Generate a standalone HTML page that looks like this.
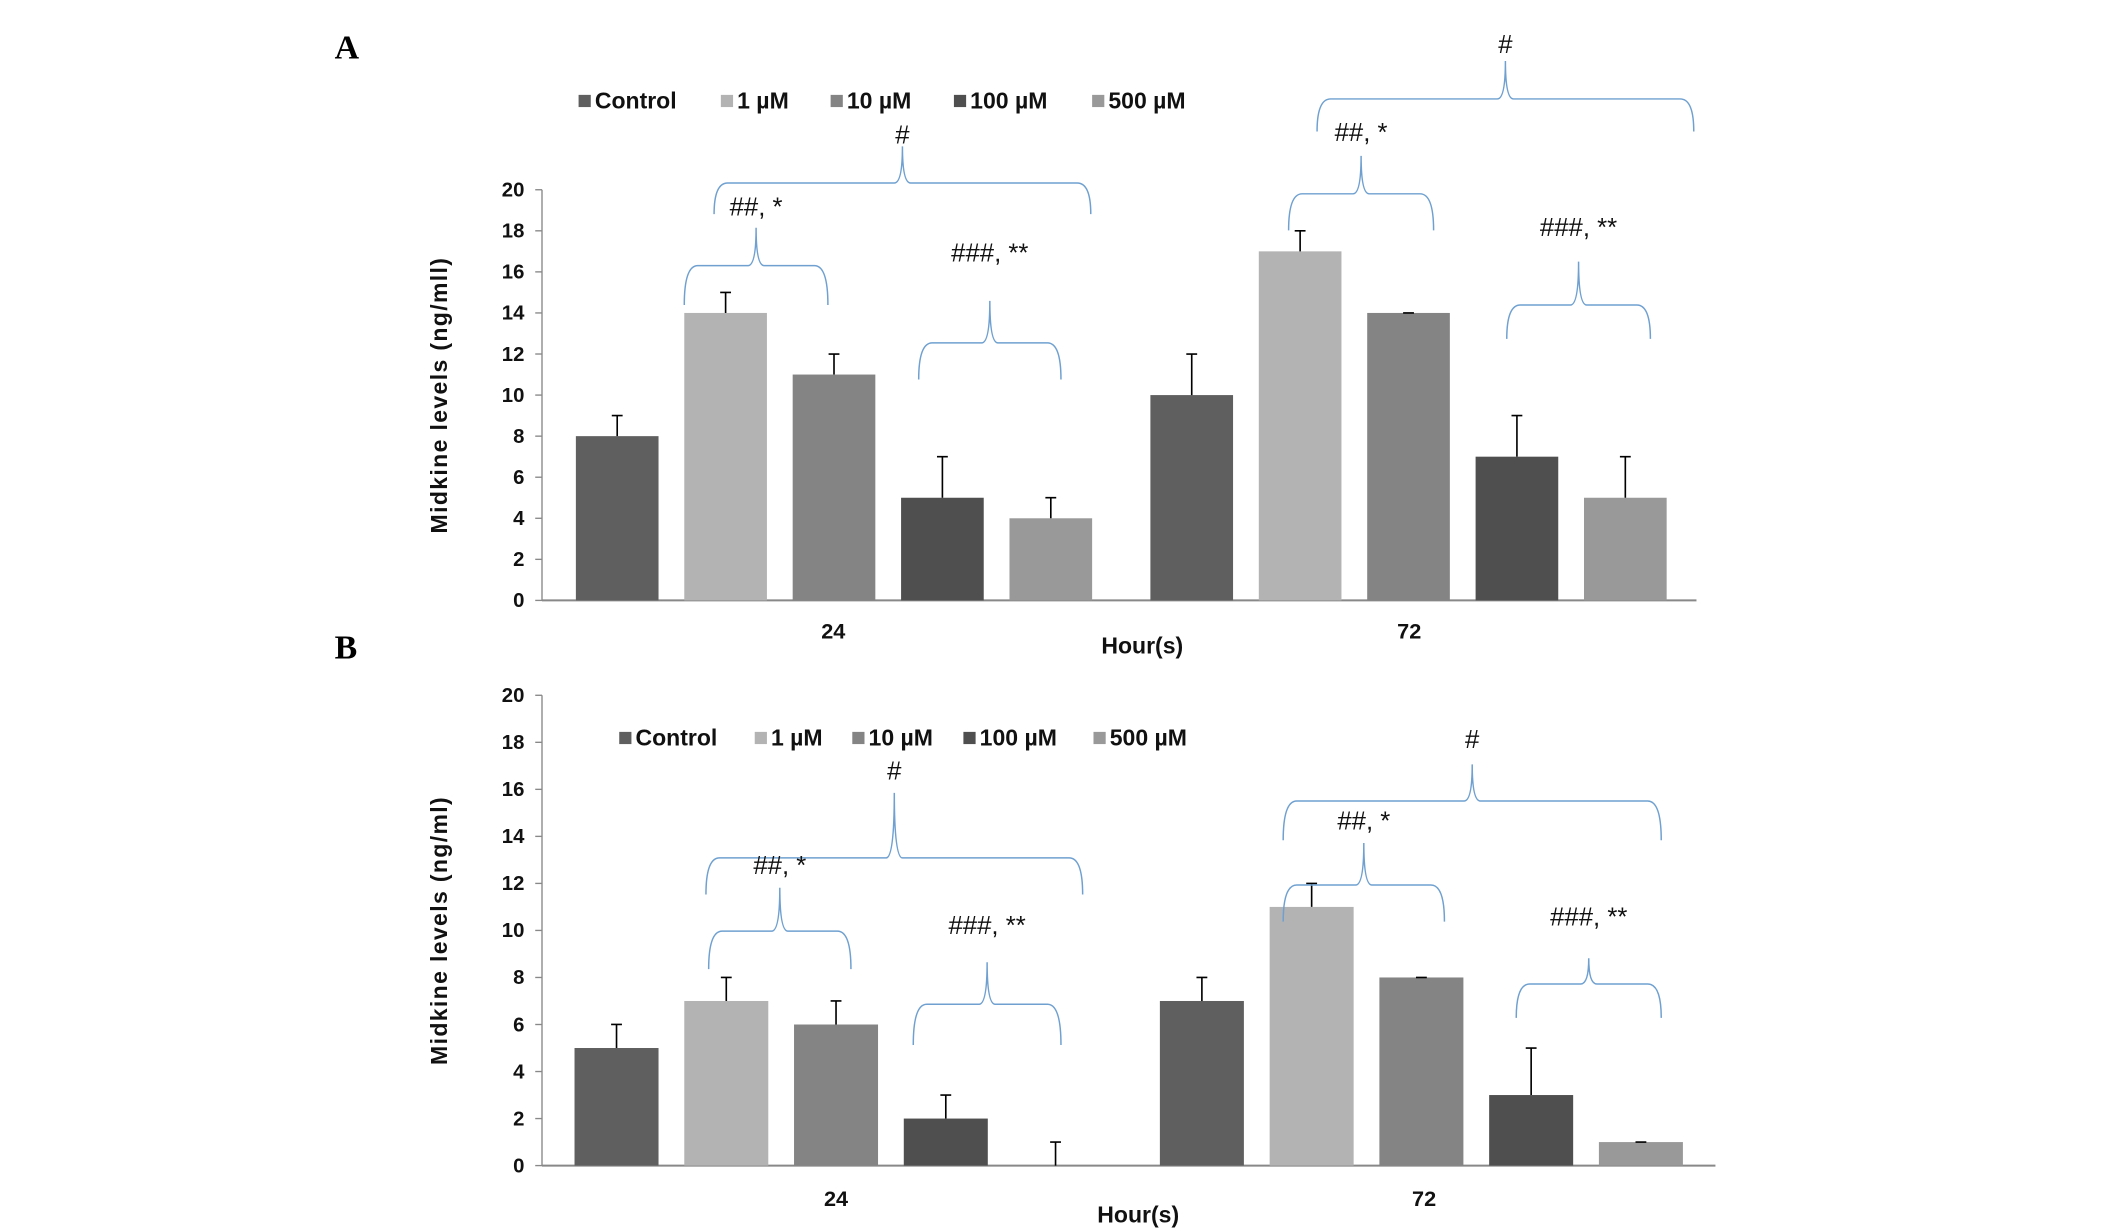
<!DOCTYPE html>
<html><head><meta charset="utf-8"><style>
html,body{margin:0;padding:0;background:#fff;}
svg{display:block;}
text{font-family:"Liberation Sans",Arial,sans-serif;}
</style></head><body>
<svg id="fig" width="2126" height="1232" viewBox="0 0 1569 909" preserveAspectRatio="none" xmlns="http://www.w3.org/2000/svg"></svg>
<script>
const seriesNames = ["Control","1 \u00b5M","10 \u00b5M","100 \u00b5M","500 \u00b5M"];
const groups = ["24","72"];
const yTicks = [0,2,4,6,8,10,12,14,16,18,20];
const aVals24 = [8,14,11,5,4];
const aErr24 = [1,1,1,2,1];
const aVals72 = [10,17,14,7,5];
const aErr72 = [2,1,0,2,2];
const bVals24 = [5,7,6,2,0];
const bErr24 = [1,1,1,1,1];
const bVals72 = [7,11,8,3,1];
const bErr72 = [1,1,0,2,0];
const colors = ["#5f5f5f","#b3b3b3","#848484","#4f4f4f","#999999"];

const NS="http://www.w3.org/2000/svg";
const svg=document.getElementById('fig');
function mk(tag,attrs,parent){const e=document.createElementNS(NS,tag);for(const k in attrs)e.setAttribute(k,attrs[k]);(parent||svg).appendChild(e);return e;}

function brace(g,x1,x2,yl,ye,yt){
  const xm=(x1+x2)/2;
  const d=`M${x1},${ye} Q${x1},${yl} ${x1+10},${yl} L${xm-6},${yl} Q${xm},${yl} ${xm},${yt} Q${xm},${yl} ${xm+6},${yl} L${x2-10},${yl} Q${x2},${yl} ${x2},${ye}`;
  const p=mk('path',{d:d,fill:'none',stroke:'#6fa0d0','stroke-width':1.1},g);
  
  
}

function panel(cfg){
  const g=mk('g',{});
  
  
  const ys=v=>cfg.y0-(v/20)*(cfg.y0-cfg.y20);
  const L=mk('text',{x:cfg.letterX,y:cfg.letterY,style:'font-family:"Liberation Serif",serif;font-weight:bold;font-size:25px',fill:'#000'},g);
  L.textContent=cfg.id;
  
  
  const ax=mk('line',{x1:cfg.ax,y1:cfg.y20,x2:cfg.ax,y2:cfg.y0,stroke:'#888','stroke-width':1},g);
  
  
  const xa=mk('line',{x1:cfg.ax,y1:cfg.y0,x2:cfg.right,y2:cfg.y0,stroke:'#888','stroke-width':1.5},g);
  
  
  yTicks.forEach(t=>{
    const y=ys(t);
    mk('line',{x1:cfg.ax-5,y1:y,x2:cfg.ax,y2:y,stroke:'#888','stroke-width':1},g);
    const tx=mk('text',{x:cfg.ax-13,y:y+5,'text-anchor':'end','font-size':15,'font-weight':'bold',fill:'#111'},g);
    tx.textContent=t;
    
    
  });
  const yt=mk('text',{x:0,y:0,transform:`translate(${cfg.ax-70},${(cfg.y0+cfg.y20)/2}) rotate(-90)`,'text-anchor':'middle','font-size':17,'font-weight':'bold','letter-spacing':1,fill:'#111'},g);
  yt.textContent='Midkine levels (ng/m'+(cfg.id==='A'?'ll':'l')+')';
  
  
  [[cfg.v24,cfg.e24,cfg.g24],[cfg.v72,cfg.e72,cfg.g72]].forEach((grp,gi)=>{
    grp[0].forEach((v,i)=>{
      const x=grp[2]+i*cfg.pitch;
      const r=mk('rect',{x:x,y:ys(v),width:cfg.bw,height:cfg.y0-ys(v),fill:colors[i]},g);
      
      
      const cx=x+cfg.bw/2, top=ys(v), et=ys(v+grp[1][i]);
      const el=mk('path',{d:`M${cx},${top} L${cx},${et} M${cx-4},${et} L${cx+4},${et}`,stroke:'#000','stroke-width':1.2,fill:'none'},g);
      
      
    });
    const lab=mk('text',{x:cfg.labX[gi],y:cfg.labY,'text-anchor':'middle','font-size':16,'font-weight':'bold',fill:'#111'},g);
    lab.textContent=groups[gi];
    
    
  });
  const xt=mk('text',{x:cfg.hourX,y:cfg.hourY,'text-anchor':'middle','font-size':17,'font-weight':'bold',fill:'#111'},g);
  xt.textContent='Hour(s)';
  
  
  seriesNames.forEach((n,i)=>{
    const x=cfg.legX[i];
    const sq=mk('rect',{x:x,y:cfg.legY-10,width:9,height:9,fill:colors[i]},g);
    
    
    const t=mk('text',{x:x+12,y:cfg.legY,'font-size':17,'font-weight':'bold',fill:'#111'},g);
    t.textContent=n;
    
    
  });
  cfg.braces.forEach(b=>{
    brace(g,b[0],b[1],b[2],b[3],b[4]);
    const t=mk('text',{x:(b[0]+b[1])/2,y:b[5],'text-anchor':'middle','font-size':19,fill:'#111'},g);
    t.textContent=b[6];
    
    
  });
}

panel({id:'A',letterX:247,letterY:43,ax:400,y0:443,y20:140,right:1252,pitch:80,bw:61,
  g24:425,g72:849,v24:aVals24,e24:aErr24,v72:aVals72,e72:aErr72,
  labX:[615,1040],labY:471,hourX:843,hourY:482,
  legX:[427,532,613,704,806],legY:80,
  braces:[[527,805,135,158,108,106,'#'],[505,611,196,225,168,159,'##, *'],[678,783,253,280,222,193,'###, **'],
          [972,1250,73,97,45,39,'#'],[951,1058,143,170,115,104,'##, *'],[1112,1218,225,250,193,174,'###, **']]});
panel({id:'B',letterX:247,letterY:486,ax:400,y0:860,y20:513,right:1266,pitch:81,bw:62,
  g24:424,g72:856,v24:bVals24,e24:bErr24,v72:bVals72,e72:bErr72,
  labX:[617,1051],labY:890,hourX:840,hourY:902,
  legX:[457,557,629,711,807],legY:550,
  braces:[[521,799,633,660,585,575,'#'],[523,628,687,715,655,645,'##, *'],[674,783,741,771,710,689,'###, **'],
          [947,1226,591,620,564,552,'#'],[947,1066,653,680,622,612,'##, *'],[1119,1226,726,751,707,683,'###, **']]});
</script>
</body></html>
